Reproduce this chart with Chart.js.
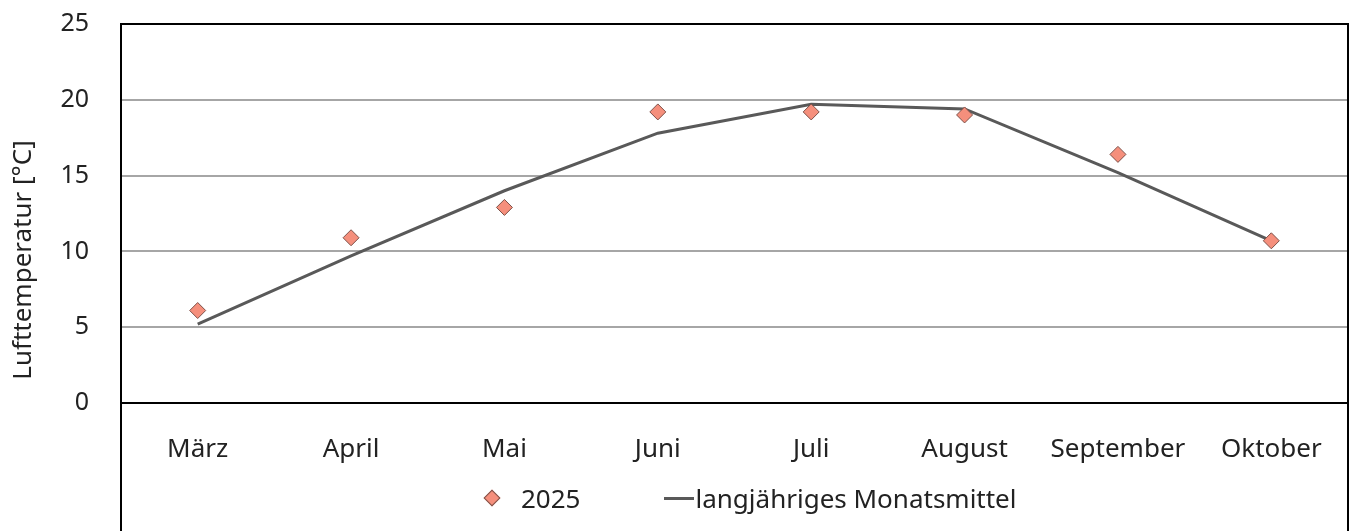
<!DOCTYPE html>
<html>
<head>
<meta charset="utf-8">
<script src="https://cdn.jsdelivr.net/npm/chart.js@4.4.1/dist/chart.umd.min.js"></script>
<style>
  html, body { margin: 0; padding: 0; background: #fff; }
  #wrap { position: relative; width: 1351px; height: 531px; }
  #legend {
    position: absolute; left: 484px; top: 483px; height: 30px;
    display: flex; align-items: center;
    font-family: 'Noto Sans', sans-serif; font-size: 26px; line-height: 30px; color: #222;
    white-space: nowrap;
  }
  .diamond {
    width: 12px; height: 12px; margin: 0 23px 0 2px;
    transform: rotate(45deg); box-sizing: border-box;
    border: 1px solid #7d5048; background: #f58f7c;
  }
  .lineKey { width: 30px; height: 3px; background: #595959; margin: 0 2px 0 0; }
  .gap { width: 83px; }
</style>
</head>
<body>
<div id="wrap">
  <canvas id="tempChart" width="1351" height="531"></canvas>
  <div id="legend"></div>
</div>
<script>
// Monate
const months = ['März', 'April', 'Mai', 'Juni', 'Juli', 'August', 'September', 'Oktober'];
// Monatsmittel 2025 (Rauten)
const temp2025 = [6.1, 10.9, 12.9, 19.2, 19.2, 19.0, 16.4, 10.7];
// langjähriges Monatsmittel (Linie)
const tempMean = [5.2, 9.7, 14.0, 17.8, 19.7, 19.4, 15.2, 10.7];
const yTicks = [0, 5, 10, 15, 20, 25];

const FONT = "'Noto Sans', sans-serif";
const DIAMOND_FILL = '#f58f7c';
const DIAMOND_LINE = '#7d5048';
const ctx = document.getElementById('tempChart').getContext('2d');

// Rahmen um Diagramm und Legende, Achsentitel
const framePlugin = {
    id: 'frame',
    afterDraw(chart) {
        const a = chart.chartArea;
        const c = chart.ctx;
        c.save();
        c.strokeStyle = '#000';
        c.lineWidth = 2;
        c.beginPath();
        c.moveTo(a.left, chart.height + 2);
        c.lineTo(a.left, a.top);
        c.lineTo(a.right, a.top);
        c.lineTo(a.right, chart.height + 2);
        c.stroke();
        // y-Achsentitel
        c.translate(24, 260);
        c.rotate(-Math.PI / 2);
        c.fillStyle = '#222';
        c.font = "26px " + FONT;
        c.textAlign = 'center';
        c.textBaseline = 'middle';
        c.fillText('Lufttemperatur [°C]', 0, 0);
        c.restore();
    }
};

const chart = new Chart(ctx, {
    data: {
        labels: months,
        datasets: [{
            type: 'scatter',
            label: '2025',
            data: temp2025,
            showLine: false,
            pointStyle: 'rectRot',
            pointRadius: 8,
            pointHoverRadius: 8,
            backgroundColor: DIAMOND_FILL,
            borderColor: DIAMOND_LINE,
            borderWidth: 1
        }, {
            type: 'line',
            label: 'langjähriges Monatsmittel',
            data: tempMean,
            borderColor: '#595959',
            backgroundColor: '#595959',
            borderWidth: 3,
            pointRadius: 0,
            tension: 0
        }]
    },
    options: {
        responsive: false,
        animation: false,
        layout: { autoPadding: false, padding: { top: 24, right: 3, bottom: 0, left: 0 } },
        scales: {
            x: {
                type: 'category',
                offset: true,
                grid: { display: false, drawTicks: false },
                border: { color: '#000', width: 2 },
                ticks: { padding: 31, color: '#222', font: { family: FONT, size: 26 } },
                afterFit(scale) {
                    scale.height = 128;
                    scale.paddingLeft = 0;
                    scale.paddingRight = 0;
                }
            },
            y: {
                min: 0,
                max: 25,
                afterBuildTicks(scale) { scale.ticks = yTicks.map(v => ({ value: v })); },
                grid: { color: '#a6a6a6', lineWidth: 2, drawTicks: false },
                border: { color: '#000', width: 2 },
                ticks: { padding: 32, color: '#222', font: { family: FONT, size: 25 } },
                afterFit(scale) {
                    scale.width = 121;
                    scale.paddingTop = 0;
                    scale.paddingBottom = 0;
                }
            }
        },
        plugins: {
            legend: { display: false },
            tooltip: { enabled: false }
        }
    },
    plugins: [framePlugin]
});

// Legende unter dem Diagramm (aus den Datensätzen)
const legendEl = document.getElementById('legend');
chart.data.datasets.forEach((ds, i) => {
    if (i > 0) {
        const gap = document.createElement('span');
        gap.className = 'gap';
        legendEl.appendChild(gap);
    }
    const key = document.createElement('span');
    key.className = ds.type === 'line' ? 'lineKey' : 'diamond';
    legendEl.appendChild(key);
    const txt = document.createElement('span');
    txt.textContent = ds.label;
    legendEl.appendChild(txt);
});
</script>
</body>
</html>
